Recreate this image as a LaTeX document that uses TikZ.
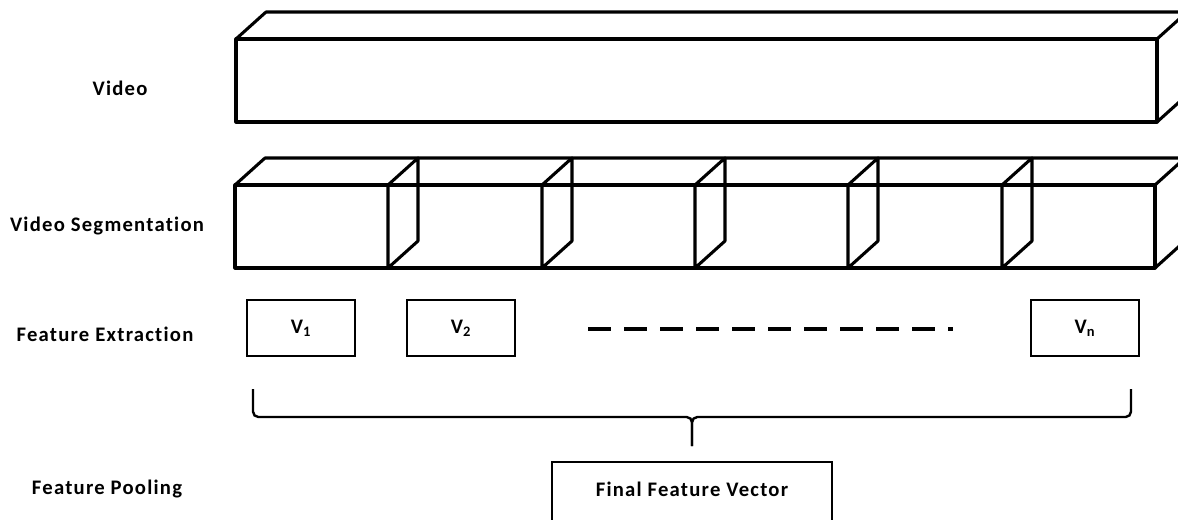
\documentclass[tikz,border=0pt]{standalone}
\usepackage{fontspec}
\setmainfont{Carlito}[LetterSpace=6, Ligatures=NoCommon]
\usetikzlibrary{positioning}

\begin{document}
\begin{tikzpicture}[
    x=0.75pt, y=-0.75pt,
    prism/.style={line width=2.3pt, line join=round},
    lbl/.style={font=\fontsize{15.5}{18}\selectfont\bfseries, inner sep=0pt, anchor=base},
    featbox/.style={draw, line width=2.1pt, minimum width=81pt, minimum height=42pt, font=\fontsize{15.5}{18}\selectfont\bfseries},
    poolbox/.style={draw, line width=2.1pt, minimum width=210pt, minimum height=51pt, text height=8pt, text depth=8pt, font=\fontsize{15.5}{18}\selectfont\bfseries},
    brace/.style={line width=1.8pt, rounded corners=4pt},
]
\useasboundingbox (0,0) rectangle (1178,520);
\clip (0,0) rectangle (1178,520);

% row labels
\node[lbl] (lvideo) at (120,96) {Video};
\node[lbl] (lseg) at (107,231.5) {Video Segmentation};
\node[lbl] (lfeat) at (105,341.5) {Feature Extraction};
\node[lbl] (lpool) at (107,494) {Feature Pooling};

% whole video
\draw[prism] (236,39) rectangle (1157,122);
\draw[prism] (236,39) -- (266,12) -- (1187,12) -- (1157,39);
\draw[prism] (1157,122) -- (1187,95) -- (1187,12);

% segments
\draw[prism] (235,185) rectangle (1155,268);
\draw[prism] (235,185) -- (265,158) -- (1185,158) -- (1155,185);
\draw[prism] (1155,268) -- (1185,241) -- (1185,158);
\draw[prism] (388,268) -- (388,185) -- (418,158) -- (418,241) -- cycle;
\draw[prism] (542,268) -- (542,185) -- (572,158) -- (572,241) -- cycle;
\draw[prism] (695,268) -- (695,185) -- (725,158) -- (725,241) -- cycle;
\draw[prism] (848,268) -- (848,185) -- (878,158) -- (878,241) -- cycle;
\draw[prism] (1002,268) -- (1002,185) -- (1032,158) -- (1032,241) -- cycle;

% features
\node[featbox] (v1) at (301,328) {V\textsubscript{1}};
\node[featbox] (v2) at (461,328) {V\textsubscript{2}};
\node[featbox] (vn) at (1085,328) {V\textsubscript{n}};
\coordinate (dotsL) at (588,329);
\coordinate (dotsR) at (953,329);
\draw[line width=2.3pt, dash pattern=on 17.25pt off 9.75pt] (dotsL) -- (dotsR);

% pooling
\coordinate (braceL) at (253,389);
\coordinate (braceR) at (1131,389);
\coordinate (braceM) at (692,417);
\coordinate (braceTip) at (692,446);
\draw[brace] (braceL) |- (braceM) -- (braceTip);
\draw[brace] (braceR) |- (braceM) -- (braceTip);
\node[poolbox] (final) at (692,496) {Final Feature Vector};

\end{tikzpicture}
\end{document}
